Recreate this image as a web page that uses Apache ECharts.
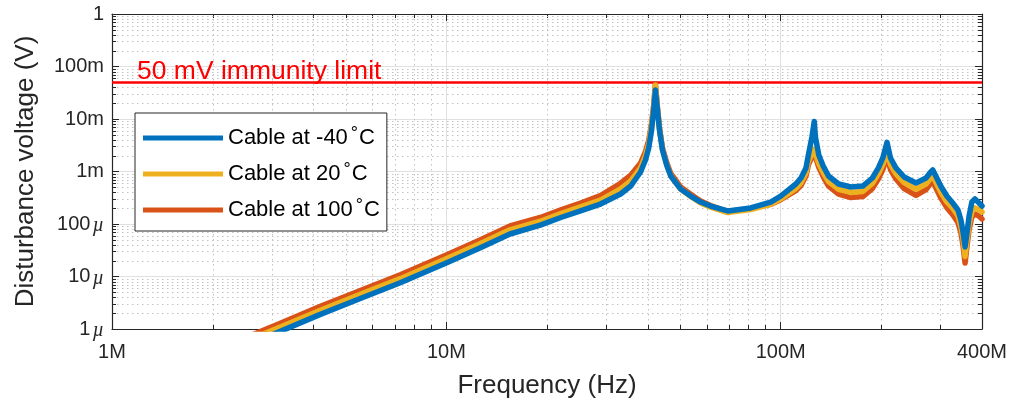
<!DOCTYPE html>
<html>
<head>
<meta charset="utf-8">
<script src="https://cdn.jsdelivr.net/npm/echarts@6/dist/echarts.min.js"></script>
<style>
  html, body { margin: 0; padding: 0; background: #fff; }
  #chart { width: 1016px; height: 406px; }
</style>
</head>
<body>
<div id="chart"></div>
<script>
// Frequency sweep points (MHz) shared by the three cable temperatures
const freqMHz = [2.5, 3.16, 4.2, 5.53, 7.28, 10.07, 12.6, 15.5, 19.1, 22, 25.2, 28.9, 33.2, 35.6, 38.1, 39.4,
  40.3, 41.1, 41.7, 42.2, 42.8, 43.4, 44.3, 45.6, 46.9, 50.2, 53.8, 57.6, 61.7, 69.4, 81.3, 93.3, 100, 111, 115,
  119, 121, 124, 126, 127, 130, 134, 139, 149, 162, 176, 188, 196, 202, 208, 213, 221, 234, 254, 272, 281, 285,
  291, 301, 314, 327, 339, 346, 351, 356, 361, 366, 373, 381, 392, 400];

// Disturbance voltage (V) for each cable temperature
const voltsMinus40 = [0.48e-6, 0.88e-6, 1.9e-6, 3.8e-6, 7.6e-6, 18.5e-6, 34.9e-6, 64.5e-6, 95e-6, 133e-6,
  177e-6, 240e-6, 373e-6, 530e-6, 977e-6, 1.66e-3, 2.8e-3, 6.17e-3, 14.8e-3, 35.7e-3, 14.8e-3, 6.17e-3,
  2.57e-3, 1.33e-3, 820e-6, 464e-6, 341e-6, 262e-6, 220e-6, 177e-6, 202e-6, 262e-6, 341e-6, 578e-6, 752e-6,
  1.17e-3, 2.06e-3, 4.54e-3, 9.0e-3, 4.54e-3, 2.06e-3, 1.27e-3, 820e-6, 578e-6, 507e-6, 529e-6, 752e-6,
  1.17e-3, 1.81e-3, 3.6e-3, 1.81e-3, 1.17e-3, 786e-6, 604e-6, 752e-6, 977e-6, 1.07e-3, 820e-6, 529e-6,
  341e-6, 251e-6, 185e-6, 119e-6, 70.4e-6, 36.5e-6, 70.4e-6, 142e-6, 262e-6, 299e-6, 251e-6, 220e-6];

const volts20 = [0.58e-6, 1.06e-6, 2.28e-6, 4.56e-6, 9.1e-6, 22.2e-6, 41.9e-6, 77.4e-6, 113e-6, 158e-6,
  211e-6, 286e-6, 466e-6, 663e-6, 1.17e-3, 1.99e-3, 3.36e-3, 7.4e-3, 17e-3, 44e-3, 15.5e-3, 6.35e-3,
  2.62e-3, 1.36e-3, 836e-6, 464e-6, 334e-6, 252e-6, 209e-6, 165e-6, 188e-6, 236e-6, 300e-6, 474e-6, 609e-6,
  936e-6, 1.55e-3, 2.2e-3, 2.68e-3, 2.2e-3, 1.4e-3, 953e-6, 640e-6, 457e-6, 400e-6, 418e-6, 594e-6,
  913e-6, 1.36e-3, 2.35e-3, 1.36e-3, 913e-6, 613e-6, 459e-6, 579e-6, 752e-6, 824e-6, 631e-6, 407e-6,
  263e-6, 201e-6, 144e-6, 90e-6, 53e-6, 24e-6, 51e-6, 99e-6, 173e-6, 203e-6, 186e-6, 169e-6];

const volts100 = [0.68e-6, 1.25e-6, 2.7e-6, 5.4e-6, 10.8e-6, 26.3e-6, 49.6e-6, 91.6e-6, 133e-6, 186e-6,
  251e-6, 348e-6, 597e-6, 848e-6, 1.45e-3, 2.41e-3, 3.92e-3, 8.3e-3, 18.5e-3, 47e-3, 16.6e-3, 6.8e-3,
  2.83e-3, 1.49e-3, 918e-6, 510e-6, 368e-6, 275e-6, 224e-6, 173e-6, 196e-6, 236e-6, 290e-6, 434e-6, 541e-6,
  819e-6, 1.34e-3, 1.9e-3, 2.3e-3, 1.9e-3, 1.2e-3, 800e-6, 525e-6, 370e-6, 319e-6, 333e-6, 474e-6,
  725e-6, 1.09e-3, 1.89e-3, 1.09e-3, 725e-6, 472e-6, 350e-6, 451e-6, 596e-6, 663e-6, 492e-6, 317e-6,
  205e-6, 151e-6, 107e-6, 67e-6, 39e-6, 18e-6, 39e-6, 78e-6, 136e-6, 155e-6, 141e-6, 125e-6];

const seriesNames = ['Cable at -40°C', 'Cable at 20°C', 'Cable at 100°C'];
const seriesColors = ['#0072BD', '#EDB120', '#D95319'];

const immunityLimit = 0.05;
const immunityLabel = '50 mV immunity limit';

const xTickValues = [1, 10, 100, 400];
const xTickLabels = ['1M', '10M', '100M', '400M'];
const yTickValues = [1e-6, 1e-5, 1e-4, 1e-3, 1e-2, 1e-1, 1];
const yTickLabels = ['1µ', '10µ', '100µ', '1m', '10m', '100m', '1'];

const X_MIN = 1, X_MAX = 400, Y_MIN = 1e-6, Y_MAX = 1;

// Minor (2..9 per decade) positions for the dotted grid and short ticks
const xMinor = [];
[1, 10, 100].forEach(d => { for (let k = 2; k <= 9; k++) { if (k * d < X_MAX) xMinor.push(k * d); } });
const yMinor = [];
for (let e = -6; e < 0; e++) { for (let k = 2; k <= 9; k++) yMinor.push(k * Math.pow(10, e)); }

const FONT = '"Liberation Sans", Arial, Helvetica, sans-serif';
const AXIS_COLOR = '#262626';
const MINOR_GRID = '#c2c2c2';
const MAJOR_GRID = '#e0e0e0';

function snap(v) { return Math.round(v) + 0.5; }

function renderVerticalMinor(params, api) {
  const v = api.value(0);
  const top = api.coord([v, Y_MAX]);
  const bot = api.coord([v, Y_MIN]);
  const x = snap(top[0]);
  return {
    type: 'group',
    children: [
      { type: 'line', shape: { x1: x, y1: top[1], x2: x, y2: bot[1] },
        style: { stroke: MINOR_GRID, lineWidth: 1, lineDash: [1.5, 3.5] } },
      { type: 'line', shape: { x1: x, y1: bot[1], x2: x, y2: bot[1] - 4 },
        style: { stroke: AXIS_COLOR, lineWidth: 1 } },
      { type: 'line', shape: { x1: x, y1: top[1], x2: x, y2: top[1] + 4 },
        style: { stroke: AXIS_COLOR, lineWidth: 1 } }
    ]
  };
}

function renderHorizontalMinor(params, api) {
  const v = api.value(1);
  const left = api.coord([X_MIN, v]);
  const right = api.coord([X_MAX, v]);
  const y = snap(left[1]);
  return {
    type: 'group',
    children: [
      { type: 'line', shape: { x1: left[0], y1: y, x2: right[0], y2: y },
        style: { stroke: MINOR_GRID, lineWidth: 1, lineDash: [1.5, 3.5] } },
      { type: 'line', shape: { x1: left[0], y1: y, x2: left[0] + 4, y2: y },
        style: { stroke: AXIS_COLOR, lineWidth: 1 } },
      { type: 'line', shape: { x1: right[0], y1: y, x2: right[0] - 4, y2: y },
        style: { stroke: AXIS_COLOR, lineWidth: 1 } }
    ]
  };
}

function labelFor(values, labels, v) {
  let best = 0, bestErr = Infinity;
  values.forEach((t, i) => {
    const err = Math.abs(Math.log10(t) - Math.log10(v));
    if (err < bestErr) { bestErr = err; best = i; }
  });
  return bestErr < 0.01 ? labels[best] : '';
}

const voltsBySeries = [voltsMinus40, volts20, volts100];

// Drawn hottest first so the -40 °C trace sits on top
const lineSeries = [2, 1, 0].map(i => ({
  name: seriesNames[i],
  type: 'line',
  data: freqMHz.map((f, j) => [f, voltsBySeries[i][j]]),
  showSymbol: false,
  symbol: 'none',
  clip: true,
  z: 5,
  lineStyle: { color: seriesColors[i], width: 5.5, join: 'round', cap: 'round' },
  itemStyle: { color: seriesColors[i] },
  emphasis: { disabled: true }
}));

lineSeries[0].markLine = {
  silent: true,
  symbol: 'none',
  animation: false,
  lineStyle: { color: '#ff0000', width: 2.5, type: 'solid' },
  label: {
    show: true,
    position: 'insideStartTop',
    formatter: immunityLabel,
    color: '#ff0000',
    fontFamily: FONT,
    fontSize: 26.5,
    distance: -3,
    padding: [0, 0, 0, 28]
  },
  data: [{ yAxis: immunityLimit }]
};

const chart = echarts.init(document.getElementById('chart'), null, { renderer: 'canvas' });

const commonX = { type: 'log', logBase: 10, min: X_MIN, max: X_MAX, gridIndex: 0 };
const commonY = { type: 'log', logBase: 10, min: Y_MIN, max: Y_MAX, gridIndex: 0 };

chart.setOption({
  animation: false,
  backgroundColor: '#ffffff',
  grid: { left: 112, right: 34, top: 14, bottom: 77, containLabel: false },
  legend: {
    data: seriesNames,
    orient: 'vertical',
    left: 135,
    top: 113,
    icon: 'rect',
    itemWidth: 80,
    itemHeight: 5,
    itemGap: 12,
    padding: [12, 7, 10, 8],
    backgroundColor: '#ffffff',
    borderColor: AXIS_COLOR,
    borderWidth: 1,
    selectedMode: false,
    textStyle: {
      fontFamily: FONT,
      fontSize: 22,
      color: '#000',
      rich: {
        deg: { fontFamily: FONT, fontSize: 18, color: '#000', padding: [0, 1, 8, 3] }
      }
    },
    formatter: n => n.replace('°', '{deg|°}')
  },
  xAxis: [
    Object.assign({}, commonX, {
      position: 'bottom',
      name: 'Frequency (Hz)',
      nameLocation: 'middle',
      nameGap: 44,
      nameTextStyle: { fontFamily: FONT, fontSize: 26, color: AXIS_COLOR },
      axisLine: { show: true, onZero: false, lineStyle: { color: AXIS_COLOR, width: 1.2 } },
      axisTick: { show: true, inside: true, length: 7, lineStyle: { color: AXIS_COLOR } },
      axisLabel: {
        show: true,
        customValues: xTickValues,
        margin: 13,
        fontFamily: FONT,
        fontSize: 20,
        color: AXIS_COLOR,
        formatter: v => labelFor(xTickValues, xTickLabels, v)
      },
      splitLine: { show: true, lineStyle: { color: MAJOR_GRID, width: 1 } },
      minorTick: { show: false },
      minorSplitLine: { show: false }
    }),
    Object.assign({}, commonX, {
      position: 'top',
      axisLine: { show: true, onZero: false, lineStyle: { color: AXIS_COLOR, width: 1.2 } },
      axisTick: { show: true, inside: true, length: 7, lineStyle: { color: AXIS_COLOR } },
      axisLabel: { show: false },
      splitLine: { show: false }
    })
  ],
  yAxis: [
    Object.assign({}, commonY, {
      position: 'left',
      name: 'Disturbance voltage (V)',
      nameLocation: 'middle',
      nameGap: 73,
      nameTextStyle: { fontFamily: FONT, fontSize: 26, color: AXIS_COLOR },
      axisLine: { show: true, onZero: false, lineStyle: { color: AXIS_COLOR, width: 1.2 } },
      axisTick: { show: true, inside: true, length: 7, lineStyle: { color: AXIS_COLOR } },
      axisLabel: {
        show: true,
        margin: 8,
        fontFamily: FONT,
        fontSize: 20,
        color: AXIS_COLOR,
        formatter: v => {
          const s = labelFor(yTickValues, yTickLabels, v);
          return s.replace('µ', '{mu|µ}');
        },
        rich: {
          mu: { fontFamily: '"Liberation Serif", "DejaVu Serif", serif', fontStyle: 'italic', fontSize: 20, color: AXIS_COLOR, padding: [4, 0, 0, 2] }
        }
      },
      splitLine: { show: true, lineStyle: { color: MAJOR_GRID, width: 1 } }
    }),
    Object.assign({}, commonY, {
      position: 'right',
      axisLine: { show: true, onZero: false, lineStyle: { color: AXIS_COLOR, width: 1.2 } },
      axisTick: { show: true, inside: true, length: 7, lineStyle: { color: AXIS_COLOR } },
      axisLabel: { show: false },
      splitLine: { show: false }
    })
  ],
  series: [
    {
      type: 'custom',
      name: 'minor-x',
      silent: true,
      z: 1,
      renderItem: renderVerticalMinor,
      data: xMinor.map(v => [v, Y_MIN]),
      clip: false
    },
    {
      type: 'custom',
      name: 'minor-y',
      silent: true,
      z: 1,
      renderItem: renderHorizontalMinor,
      data: yMinor.map(v => [X_MIN, v]),
      clip: false
    }
  ].concat(lineSeries)
});
</script>
</body>
</html>
